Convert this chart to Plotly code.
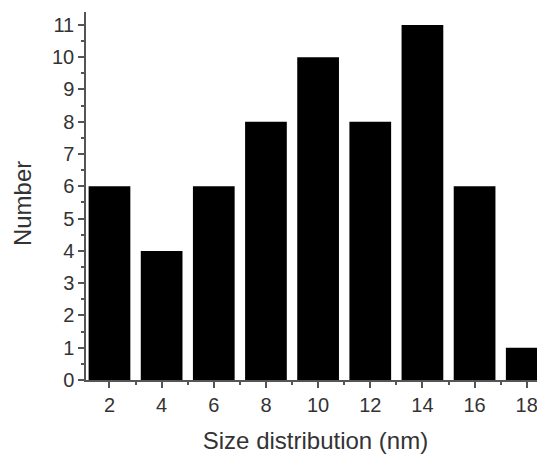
import plotly.graph_objects as go

sizes = [2, 4, 6, 8, 10, 12, 14, 16, 18]
counts = [6, 4, 6, 8, 10, 8, 11, 6, 1]
x_ticks = [2, 4, 6, 8, 10, 12, 14, 16, 18]
y_ticks = list(range(0, 12))

fig = go.Figure(go.Bar(x=sizes, y=counts, marker=dict(color="black", line=dict(width=0)), width=1.6))

axis_col = "#555"
fig.update_layout(
    width=537, height=447,
    margin=dict(l=78, r=0, t=4, b=75),
    plot_bgcolor="white", paper_bgcolor="white",
    font=dict(family="Liberation Sans, Arial", color="#333", size=20),
    showlegend=False,
)
fig.update_xaxes(
    range=[1.1, 18.7], tickvals=x_ticks, ticks="outside", ticklen=6, tickwidth=1.5,
    tickcolor=axis_col, showline=True, linecolor=axis_col, linewidth=1.5, showgrid=False,
    zeroline=False, automargin=False,
    minor=dict(ticks="outside", ticklen=3, tickwidth=1.5, tickcolor=axis_col, dtick=1, tick0=1),
    title=dict(text="Size distribution (nm)", font=dict(size=24), standoff=17),
)
fig.update_yaxes(
    range=[0, 11.4], tickvals=y_ticks, ticks="outside", ticklen=6, tickwidth=1.5,
    tickcolor=axis_col, showline=True, linecolor=axis_col, linewidth=1.5, showgrid=False,
    zeroline=False, automargin=False,
    minor=dict(ticks="outside", ticklen=3, tickwidth=1.5, tickcolor=axis_col, dtick=0.5, tick0=0),
)
fig.add_annotation(
    text="Number", textangle=-90, xref="paper", yref="paper",
    x=-0.1394, y=0.478, xanchor="center", yanchor="middle", showarrow=False,
    font=dict(size=24, color="#333"),
)
fig.write_html("out.html")
